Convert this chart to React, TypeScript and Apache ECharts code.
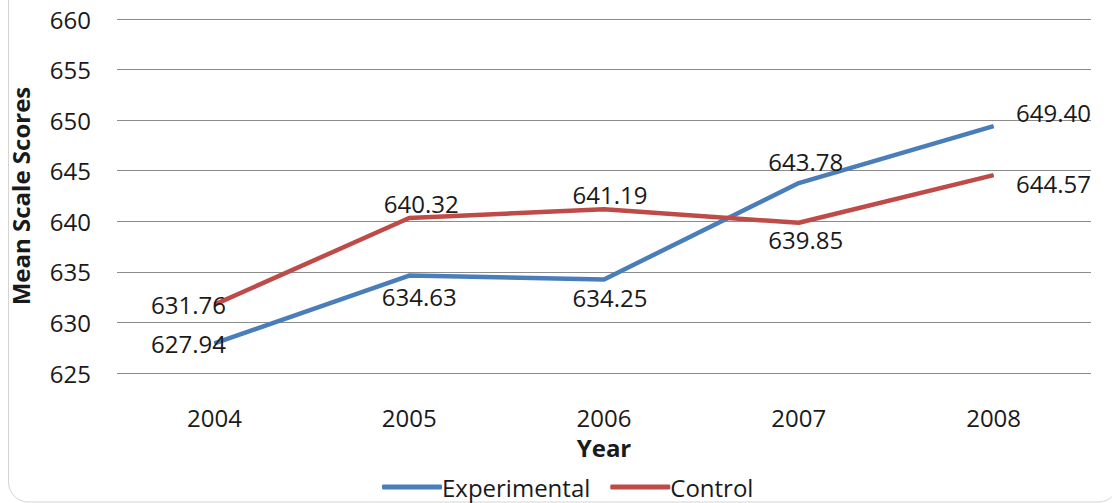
import React, { useEffect, useRef } from "react";
import * as echarts from "echarts";

const years = ["2004", "2005", "2006", "2007", "2008"];
const experimental = [627.94, 634.63, 634.25, 643.78, 649.4];
const control = [631.76, 640.32, 641.19, 639.85, 644.57];
const yMin = 625;
const yMax = 660;
const yStep = 5;

const expLabelPos = ["left", "bottom", "bottom", "top", "right"];
const ctlLabelPos = ["left", "top", "top", "bottom", "right"];
const expLabelOffset = [[0, 0], [10, 6], [6, 4], [7, -7], [0, -14]];
const ctlLabelOffset = [[0, 0], [12, 0], [6, 0], [7, 2], [0, 8]];

const FONT = "'Open Sans', sans-serif";

function buildData(values: number[], pos: string[], offs: number[][]) {
  return values.map((v, i) => ({
    value: v,
    label: {
      show: true,
      position: pos[i],
      offset: offs[i],
      distance: pos[i] === "left" ? -12 : pos[i] === "right" ? 22 : 2,
    },
  }));
}

export default function App() {
  const ref = useRef<HTMLDivElement>(null);
  useEffect(() => {
    if (!ref.current) return;
    const chart = echarts.init(ref.current, null, { renderer: "svg" });
    const labelBase = {
      show: true,
      color: "#1a1a1a",
      fontFamily: FONT,
      fontSize: 24,
      formatter: (p: any) => Number(p.value).toFixed(2),
    };
    chart.setOption({
      animation: false,
      backgroundColor: "#ffffff",
      textStyle: { fontFamily: FONT },
      graphic: [
        {
          type: "rect",
          shape: { x: 8.5, y: -30, width: 1110, height: 532, r: 20 },
          style: { fill: "none", stroke: "#d4d4d4", lineWidth: 1 },
          silent: true,
          z: -10,
        },
      ],
      grid: { left: 117, right: 21, top: 19, bottom: 130 },
      legend: {
        left: 377,
        top: 470,
        itemWidth: 60,
        itemHeight: 5,
        itemGap: 20,
        icon: "roundRect",
        textStyle: { fontFamily: FONT, fontSize: 24, color: "#1a1a1a", padding: [0, 0, 0, -5] },
        data: ["Experimental", "Control"],
      },
      xAxis: {
        type: "category",
        data: years,
        boundaryGap: true,
        name: "Year",
        nameLocation: "middle",
        nameGap: 62,
        nameTextStyle: { fontFamily: FONT, fontSize: 24, fontWeight: "bold", color: "#1a1a1a" },
        axisLine: { show: false },
        axisTick: { show: false },
        axisLabel: { fontFamily: FONT, fontSize: 24, color: "#1a1a1a", margin: 32 },
      },
      yAxis: {
        type: "value",
        min: yMin,
        max: yMax,
        interval: yStep,
        name: "Mean Scale Scores",
        nameLocation: "middle",
        nameGap: 85,
        nameTextStyle: { fontFamily: FONT, fontSize: 24, fontWeight: "bold", color: "#1a1a1a" },
        axisLine: { show: false },
        axisTick: { show: false },
        axisLabel: { fontFamily: FONT, fontSize: 24, color: "#1a1a1a", margin: 26 },
        splitLine: { lineStyle: { color: "#8c8c8c", width: 1.2 } },
      },
      series: [
        {
          name: "Experimental",
          type: "line",
          data: buildData(experimental, expLabelPos, expLabelOffset),
          symbol: "circle",
          symbolSize: 1,
          showSymbol: true,
          lineStyle: { color: "#4A7EBB", width: 4.5 },
          itemStyle: { color: "#4A7EBB" },
          label: labelBase,
        },
        {
          name: "Control",
          type: "line",
          data: buildData(control, ctlLabelPos, ctlLabelOffset),
          symbol: "circle",
          symbolSize: 1,
          showSymbol: true,
          lineStyle: { color: "#BE4B48", width: 4.5 },
          itemStyle: { color: "#BE4B48" },
          label: labelBase,
        },
      ],
    });
    return () => chart.dispose();
  }, []);
  return (
    <div
      ref={ref}
      style={{ position: "fixed", left: 0, top: 0, width: 1112, height: 503 }}
    />
  );
}
